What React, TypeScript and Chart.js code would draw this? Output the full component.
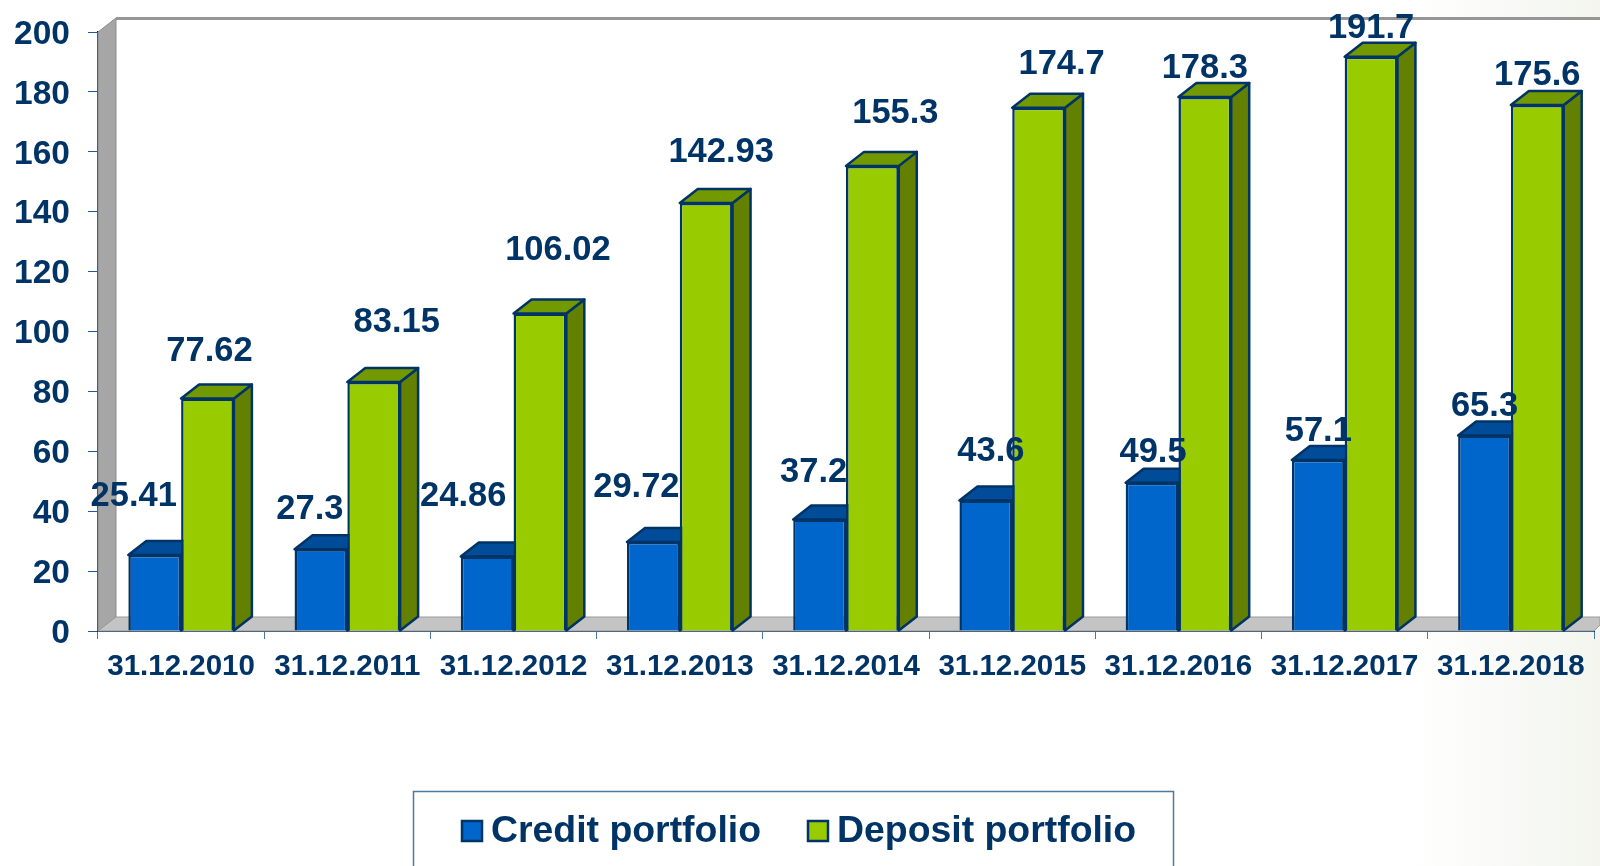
import React, { useEffect, useRef } from "react";
import { Chart, registerables } from "chart.js";

Chart.register(...registerables);

const categories = ["31.12.2010", "31.12.2011", "31.12.2012", "31.12.2013", "31.12.2014", "31.12.2015", "31.12.2016", "31.12.2017", "31.12.2018"];
const creditPortfolio = [25.41, 27.3, 24.86, 29.72, 37.2, 43.6, 49.5, 57.1, 65.3];
const depositPortfolio = [77.62, 83.15, 106.02, 142.93, 155.3, 174.7, 178.3, 191.7, 175.6];
const creditLabelOffsetX = [-21, -11, -24, -17, -6, 5, 1, 0, 0];
const creditLabelOffsetY = [-58, -40, -60, -55, -47, -49, -30, -29, -29];
const depositLabelOffsetX = [2, 23, 18, 15, 23, 23, 0, 0, 0];
const depositLabelOffsetY = [-47, -59, -63, -50, -52, -43, -29, -28, -30];

const NAVY = "#003366";
const FONT = '"Liberation Sans", Arial, sans-serif';
const DX = 18;
const DY = 14;

const faces = [
  { front: "#0066CC", top: "#004C99", side: "#004C99", ox: creditLabelOffsetX, oy: creditLabelOffsetY },
  { front: "#99CC00", top: "#739900", side: "#648000", ox: depositLabelOffsetX, oy: depositLabelOffsetY },
];

function poly(ctx: CanvasRenderingContext2D, pts: number[][], fill: string, stroke: string | null, lw = 2.5) {
  ctx.beginPath();
  pts.forEach(([x, y], i) => (i ? ctx.lineTo(x, y) : ctx.moveTo(x, y)));
  ctx.closePath();
  ctx.fillStyle = fill;
  ctx.fill();
  if (stroke) {
    ctx.strokeStyle = stroke;
    ctx.lineWidth = lw;
    ctx.lineJoin = "round";
    ctx.stroke();
  }
}

const box3d = {
  id: "box3d",
  beforeDatasetsDraw(chart: any) {
    const { ctx, chartArea: a } = chart;
    ctx.save();
    ctx.fillStyle = "#ffffff";
    ctx.fillRect(a.left + DX, a.top - DY, chart.width - a.left - DX, a.bottom - a.top);
    poly(ctx, [[a.left, a.top], [a.left + DX, a.top - DY], [a.left + DX, a.bottom - DY], [a.left, a.bottom]], "#A6A6A6", "#8C8C8C", 1);
    ctx.fillStyle = "#969696";
    ctx.fillRect(a.left + DX, a.top - DY - 1, chart.width - a.left - DX, 3);
    poly(ctx, [[a.left, a.bottom], [a.left + DX, a.bottom - DY], [chart.width, a.bottom - DY], [chart.width, a.bottom - 6], [a.right, a.bottom]], "#C4C4C4", "#9A9A9A", 1);
    chart.data.datasets.forEach((_: any, d: number) => {
      const f = faces[d];
      chart.getDatasetMeta(d).data.forEach((bar: any) => {
        const l = bar.x - bar.width / 2;
        const r = bar.x + bar.width / 2;
        const t = bar.y;
        const b = bar.base;
        poly(ctx, [[r, t], [r + DX, t - DY], [r + DX, b - DY], [r, b]], f.side, NAVY);
        poly(ctx, [[l, t], [l + DX, t - DY], [r + DX, t - DY], [r, t]], f.top, NAVY);
      });
    });
    ctx.restore();
  },
  afterDraw(chart: any) {
    const { ctx } = chart;
    ctx.save();
    ctx.font = `bold 34.5px ${FONT}`;
    ctx.fillStyle = NAVY;
    ctx.textAlign = "center";
    ctx.textBaseline = "middle";
    chart.data.datasets.forEach((ds: any, d: number) => {
      chart.getDatasetMeta(d).data.forEach((bar: any, i: number) => {
        ctx.fillText(String(ds.data[i]), bar.x + faces[d].ox[i], bar.y + faces[d].oy[i]);
      });
    });
    // legend
    ctx.strokeStyle = "#4F77A3";
    ctx.lineWidth = 1.5;
    ctx.strokeRect(413.5, 791.5, 760, 90);
    ctx.font = `bold 37.4px ${FONT}`;
    ctx.textAlign = "left";
    const lx = [462, 808];
    chart.data.datasets.forEach((ds: any, d: number) => {
      ctx.fillStyle = faces[d].front;
      ctx.strokeStyle = NAVY;
      ctx.lineWidth = 2.5;
      ctx.fillRect(lx[d], 821, 20, 20);
      ctx.strokeRect(lx[d], 821, 20, 20);
      ctx.fillStyle = NAVY;
      ctx.fillText(ds.label, lx[d] + 29, 832);
    });
    ctx.restore();
  },
};

export default function App() {
  const ref = useRef<HTMLCanvasElement>(null);
  useEffect(() => {
    const chart = new Chart(ref.current!, {
      type: "bar",
      data: {
        labels: categories,
        datasets: [
          { label: "Credit portfolio", data: creditPortfolio, backgroundColor: faces[0].front, borderColor: NAVY, borderWidth: 2.5 },
          { label: "Deposit portfolio", data: depositPortfolio, backgroundColor: faces[1].front, borderColor: NAVY, borderWidth: 2.5 },
        ],
      },
      options: {
        responsive: false,
        animation: false,
        layout: { padding: { top: 32, right: 6, left: 0, bottom: 0 } },
        datasets: { bar: { categoryPercentage: 0.635, barPercentage: 1 } },
        plugins: { legend: { display: false }, title: { display: false }, tooltip: { enabled: false } },
        scales: {
          x: {
            grid: { drawOnChartArea: false, drawTicks: true, tickLength: 8, color: "#4F77A3", offset: true },
            border: { color: NAVY, width: 2 },
            ticks: { color: NAVY, font: { family: FONT, size: 29.5, weight: "bold" }, maxRotation: 0, autoSkip: false, padding: 10 },
            afterFit: (s: any) => { s.height = 235; s.paddingLeft = 0; s.paddingRight = 0; },
          },
          y: {
            min: 0,
            max: 200,
            grid: { drawOnChartArea: false, drawTicks: true, tickLength: 10, color: "#1F5A96" },
            border: { color: NAVY, width: 2 },
            ticks: { stepSize: 20, color: NAVY, font: { family: FONT, size: 33.5, weight: "bold" }, padding: 18, labelOffset: 2.5 },
            afterFit: (s: any) => { s.width = 98; s.paddingTop = 0; s.paddingBottom = 0; },
          },
        },
      },
      plugins: [box3d],
    } as any);
    return () => chart.destroy();
  }, []);
  return (
    <div style={{ position: "absolute", left: 0, top: 0, width: 1600, height: 866, overflow: "hidden", background: "linear-gradient(90deg, #ffffff 88%, #f3f5ee 100%)" }}>
      <canvas ref={ref} width={1600} height={866} style={{ display: "block" }} />
    </div>
  );
}
